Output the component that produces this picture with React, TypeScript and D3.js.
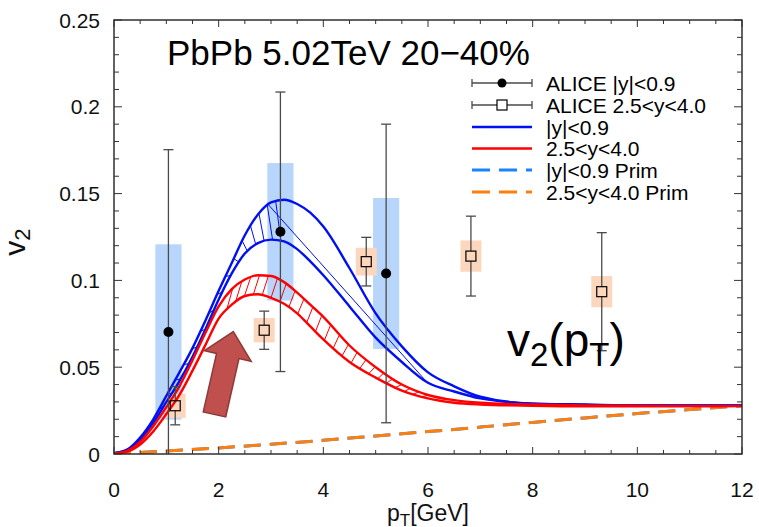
import React from 'react';
import * as d3 from 'd3';

const W = 759;
const H = 527;

// transverse momentum grid for the model curves
const pT = [0, 0.25, 0.5, 0.75, 1, 1.25, 1.5, 1.75, 2, 2.25, 2.5, 2.75, 3, 3.25, 3.5, 3.75, 4, 4.5, 5, 5.5, 6, 6.5, 7, 8, 9, 10, 11, 12];
const blueUpper = [0.0005, 0.0025, 0.0095, 0.020, 0.0335, 0.047, 0.061, 0.077, 0.094, 0.110, 0.126, 0.138, 0.145, 0.1465, 0.144, 0.139, 0.131, 0.107, 0.081, 0.062, 0.047, 0.039, 0.033, 0.029, 0.0285, 0.028, 0.028, 0.028];
const blueLower = [0.0005, 0.0022, 0.0085, 0.018, 0.030, 0.042, 0.056, 0.072, 0.089, 0.104, 0.1155, 0.1215, 0.1235, 0.1225, 0.118, 0.111, 0.103, 0.085, 0.067, 0.053, 0.041, 0.036, 0.032, 0.029, 0.0283, 0.028, 0.028, 0.028];
const redUpper = [0.0003, 0.0018, 0.007, 0.016, 0.027, 0.039, 0.054, 0.070, 0.085, 0.095, 0.1005, 0.103, 0.1025, 0.099, 0.093, 0.086, 0.079, 0.0625, 0.050, 0.040, 0.034, 0.031, 0.0295, 0.0285, 0.028, 0.0278, 0.0277, 0.0277];
const redLower = [0.0003, 0.0014, 0.0055, 0.013, 0.023, 0.034, 0.048, 0.063, 0.078, 0.086, 0.091, 0.092, 0.090, 0.0865, 0.081, 0.0735, 0.066, 0.053, 0.044, 0.0365, 0.032, 0.0295, 0.0285, 0.0278, 0.0275, 0.0275, 0.0275, 0.0276];

const primP = [0, 1, 2, 3, 4, 5, 6, 7, 8, 9, 10, 11, 12];
const primMid = [0.0002, 0.0017, 0.0035, 0.0056, 0.0079, 0.0104, 0.0129, 0.0155, 0.0182, 0.0208, 0.0233, 0.0256, 0.0278];
const primFwd = [0.0002, 0.0017, 0.0035, 0.0056, 0.0079, 0.0104, 0.0129, 0.0155, 0.0182, 0.0208, 0.0233, 0.0256, 0.0278];

// ALICE |y|<0.9
const midP = [1.04, 3.18, 5.2];
const midV = [0.0703, 0.128, 0.104];
const midStat = [0.105, 0.0805, 0.086];
const midSys = [0.0505, 0.0396, 0.0435];

// ALICE 2.5<y<4.0
const fwdP = [1.17, 2.87, 4.82, 6.82, 9.32];
const fwdV = [0.0278, 0.0713, 0.1108, 0.114, 0.0935];
const fwdStat = [0.011, 0.011, 0.014, 0.023, 0.034];
const fwdSys = [0.007, 0.007, 0.008, 0.009, 0.009];

const xMajor = [0, 2, 4, 6, 8, 10, 12];
const xLabels = ['0', '2', '4', '6', '8', '10', '12'];
const yMajor = [0, 0.05, 0.1, 0.15, 0.2, 0.25];
const yLabels = ['0', '0.05', '0.1', '0.15', '0.2', '0.25'];

const legendLabels = ['ALICE |y|<0.9', 'ALICE 2.5<y<4.0', '|y|<0.9', '2.5<y<4.0', '|y|<0.9 Prim', '2.5<y<4.0 Prim'];

// arrow annotation (data units): tail centre and tip
const arrowTail = [1.92, 0.0228];
const arrowTip = [2.28, 0.0705];

const FONT = '"Liberation Sans", Arial, Helvetica, sans-serif';
const BLUE = '#0010f0';
const RED = '#ff0000';
const LBLUE = '#1a82ff';
const ORANGE = '#ff7f0e';
const GRAY = '#4a4a4a';

export default function App() {
  const x = d3.scaleLinear().domain([0, 12]).range([114, 742]);
  const y = d3.scaleLinear().domain([0, 0.25]).range([454, 20]);

  const curve = (ps: number[], vs: number[]) =>
    d3.line<number>().x((_, i) => x(ps[i])).y((d) => y(d)).curve(d3.curveMonotoneX)(vs) || '';

  const interp = (vs: number[]) => d3.scaleLinear().domain(pT).range(vs).clamp(true);
  const bu = interp(blueUpper), bl = interp(blueLower), ru = interp(redUpper), rl = interp(redLower);

  const blueHatch = d3.range(0.85, 3.15, 0.16).map((p) => [x(p), y(bu(p)), x(p + 0.1), y(bl(p + 0.1))]);
  const redHatch = d3.range(2.15, 5.9, 0.17).map((p) => [x(p), y(rl(p)), x(p + 0.12), y(ru(p + 0.12))]);
  const blueThin = [x(2.95), y(bu(2.95)), x(5.97), y(bl(5.97))];

  const xMinor = d3.range(0, 12.001, 0.5);
  const yMinor = d3.range(0, 0.2501, 0.01);

  // arrow geometry in pixels
  const tx = x(arrowTail[0]), ty = y(arrowTail[1]);
  const hx = x(arrowTip[0]), hy = y(arrowTip[1]);
  const len = Math.hypot(hx - tx, hy - ty);
  const ux = (hx - tx) / len, uy = (hy - ty) / len;
  const nx = -uy, ny = ux;
  const sw = 11.5, hw = 24, hl = 25;
  const bx = hx - ux * hl, by = hy - uy * hl;
  const arrowPts = [
    [tx + nx * sw, ty + ny * sw],
    [bx + nx * sw, by + ny * sw],
    [bx + nx * hw, by + ny * hw],
    [hx, hy],
    [bx - nx * hw, by - ny * hw],
    [bx - nx * sw, by - ny * sw],
    [tx - nx * sw, ty - ny * sw],
  ].map((p) => p.join(',')).join(' ');

  const legY = [83, 105, 127, 148.5, 170, 192];
  const lx1 = 472, lx2 = 532, lxm = 502;
  const sq = 10;

  return (
    <svg width={W} height={H} style={{ position: 'absolute', left: 0, top: 0, background: '#fff' }} fontFamily={FONT}>
      <defs>
        <clipPath id="plot">
          <rect x={114} y={20} width={628} height={434} />
        </clipPath>
      </defs>

      <g clipPath="url(#plot)">
        {/* systematic boxes */}
        {midP.map((p, i) => (
          <rect key={'ms' + i} x={x(p - 0.25)} y={y(midV[i] + midSys[i])} width={x(p + 0.25) - x(p - 0.25)}
            height={y(midV[i] - midSys[i]) - y(midV[i] + midSys[i])} fill="#b8d6fb" />
        ))}
        {fwdP.map((p, i) => (
          <rect key={'fs' + i} x={x(p - 0.2)} y={y(fwdV[i] + fwdSys[i])} width={x(p + 0.2) - x(p - 0.2)}
            height={y(fwdV[i] - fwdSys[i]) - y(fwdV[i] + fwdSys[i])} fill="#fcd6bd" />
        ))}

        {/* primordial lines */}
        <path d={curve(primP, primMid)} fill="none" stroke={LBLUE} strokeWidth={3} strokeDasharray="17 9" />
        <path d={curve(primP, primFwd)} fill="none" stroke={ORANGE} strokeWidth={3} strokeDasharray="17 9" />

        {/* hatch */}
        {blueHatch.map((h, i) => (
          <line key={'bh' + i} x1={h[0]} y1={h[1]} x2={h[2]} y2={h[3]} stroke={BLUE} strokeWidth={1} />
        ))}
        <line x1={blueThin[0]} y1={blueThin[1]} x2={blueThin[2]} y2={blueThin[3]} stroke={BLUE} strokeWidth={1} />
        {redHatch.map((h, i) => (
          <line key={'rh' + i} x1={h[0]} y1={h[1]} x2={h[2]} y2={h[3]} stroke={RED} strokeWidth={1} />
        ))}

        {/* model curves */}
        <path d={curve(pT, blueUpper)} fill="none" stroke={BLUE} strokeWidth={2.4} />
        <path d={curve(pT, blueLower)} fill="none" stroke={BLUE} strokeWidth={2.4} />
        <path d={curve(pT, redUpper)} fill="none" stroke={RED} strokeWidth={2.4} />
        <path d={curve(pT, redLower)} fill="none" stroke={RED} strokeWidth={2.4} />

        {/* ALICE mid-rapidity */}
        {midP.map((p, i) => {
          const cx = x(p);
          const t = y(midV[i] + midStat[i]);
          const b = y(midV[i] - midStat[i]);
          return (
            <g key={'m' + i}>
              <line x1={cx} y1={t} x2={cx} y2={b} stroke={GRAY} strokeWidth={1.3} />
              <line x1={cx - 5} y1={t} x2={cx + 5} y2={t} stroke={GRAY} strokeWidth={1.3} />
              <line x1={cx - 5} y1={b} x2={cx + 5} y2={b} stroke={GRAY} strokeWidth={1.3} />
              <circle cx={cx} cy={y(midV[i])} r={5} fill="#000" />
            </g>
          );
        })}

        {/* ALICE forward */}
        {fwdP.map((p, i) => {
          const cx = x(p);
          const cy = y(fwdV[i]);
          const t = y(fwdV[i] + fwdStat[i]);
          const b = y(fwdV[i] - fwdStat[i]);
          return (
            <g key={'f' + i}>
              <line x1={cx} y1={t} x2={cx} y2={cy - sq / 2} stroke={GRAY} strokeWidth={1.3} />
              <line x1={cx} y1={cy + sq / 2} x2={cx} y2={b} stroke={GRAY} strokeWidth={1.3} />
              <line x1={cx - 5} y1={t} x2={cx + 5} y2={t} stroke={GRAY} strokeWidth={1.3} />
              <line x1={cx - 5} y1={b} x2={cx + 5} y2={b} stroke={GRAY} strokeWidth={1.3} />
              <rect x={cx - sq / 2} y={cy - sq / 2} width={sq} height={sq} fill="none" stroke="#000" strokeWidth={1.2} />
            </g>
          );
        })}
      </g>

      {/* arrow */}
      <polygon points={arrowPts} fill="#c0504d" stroke="#8c3a38" strokeWidth={1.5} strokeLinejoin="miter" />

      {/* frame and ticks */}
      <rect x={114} y={20} width={628} height={434} fill="none" stroke="#222" strokeWidth={1.4} />
      {xMinor.map((p, i) => {
        const major = Math.abs(p / 2 - Math.round(p / 2)) < 1e-6;
        const l = major ? 7 : 4;
        return (
          <g key={'xt' + i}>
            <line x1={x(p)} y1={454} x2={x(p)} y2={454 - l} stroke="#333" strokeWidth={1} />
            <line x1={x(p)} y1={20} x2={x(p)} y2={20 + l} stroke="#333" strokeWidth={1} />
          </g>
        );
      })}
      {yMinor.map((v, i) => {
        const major = i % 5 === 0;
        const l = major ? 8 : 5;
        return (
          <g key={'yt' + i}>
            <line x1={114} y1={y(v)} x2={114 + l} y2={y(v)} stroke="#333" strokeWidth={1} />
            <line x1={742} y1={y(v)} x2={742 - l} y2={y(v)} stroke="#333" strokeWidth={1} />
          </g>
        );
      })}
      {xMajor.map((p, i) => (
        <text key={'xl' + i} x={x(p)} y={497} fontSize={21} textAnchor="middle" fill="#111">{xLabels[i]}</text>
      ))}
      {yMajor.map((v, i) => (
        <text key={'yl' + i} x={100} y={y(v) + 7.5} fontSize={21} textAnchor="end" fill="#111">{yLabels[i]}</text>
      ))}

      {/* axis titles */}
      <text x={428} y={521} fontSize={23} textAnchor="middle" fill="#111">
        p<tspan fontSize={17} dy={5}>T</tspan><tspan dy={-5}>[GeV]</tspan>
      </text>
      <text transform="translate(25,242) rotate(-90)" fontSize={30} textAnchor="middle" fill="#111">
        v<tspan fontSize={22} dy={5}>2</tspan>
      </text>

      {/* title */}
      <text x={167} y={65} fontSize={35} fill="#000">PbPb 5.02TeV 20−40%</text>

      {/* big label */}
      <text x={507} y={356} fontSize={46} fill="#000">
        v<tspan fontSize={33} dy={10}>2</tspan><tspan dy={-10}>(p</tspan><tspan fontSize={33} dy={10}>T</tspan><tspan dy={-10}>)</tspan>
      </text>

      {/* legend */}
      <g>
        {[0, 1].map((r) => (
          <g key={'le' + r}>
            <line x1={lx1} y1={legY[r]} x2={lx2} y2={legY[r]} stroke={GRAY} strokeWidth={1.3} />
            <line x1={lx1} y1={legY[r] - 4} x2={lx1} y2={legY[r] + 4} stroke={GRAY} strokeWidth={1.3} />
            <line x1={lx2} y1={legY[r] - 4} x2={lx2} y2={legY[r] + 4} stroke={GRAY} strokeWidth={1.3} />
          </g>
        ))}
        <circle cx={lxm} cy={legY[0]} r={4.5} fill="#000" />
        <rect x={lxm - sq / 2} y={legY[1] - sq / 2} width={sq} height={sq} fill="#fff" stroke="#000" strokeWidth={1.2} />
        <line x1={lx1} y1={legY[2]} x2={lx2} y2={legY[2]} stroke={BLUE} strokeWidth={2.4} />
        <line x1={lx1} y1={legY[3]} x2={lx2} y2={legY[3]} stroke={RED} strokeWidth={2.4} />
        <line x1={lx1} y1={legY[4]} x2={lx2} y2={legY[4]} stroke={LBLUE} strokeWidth={3} strokeDasharray="18 9" />
        <line x1={lx1} y1={legY[5]} x2={lx2} y2={legY[5]} stroke={ORANGE} strokeWidth={3} strokeDasharray="18 9" />
        {legendLabels.map((t, i) => (
          <text key={'lt' + i} x={546} y={legY[i] + 7.5} fontSize={21} fill="#000">{t}</text>
        ))}
      </g>
    </svg>
  );
}
